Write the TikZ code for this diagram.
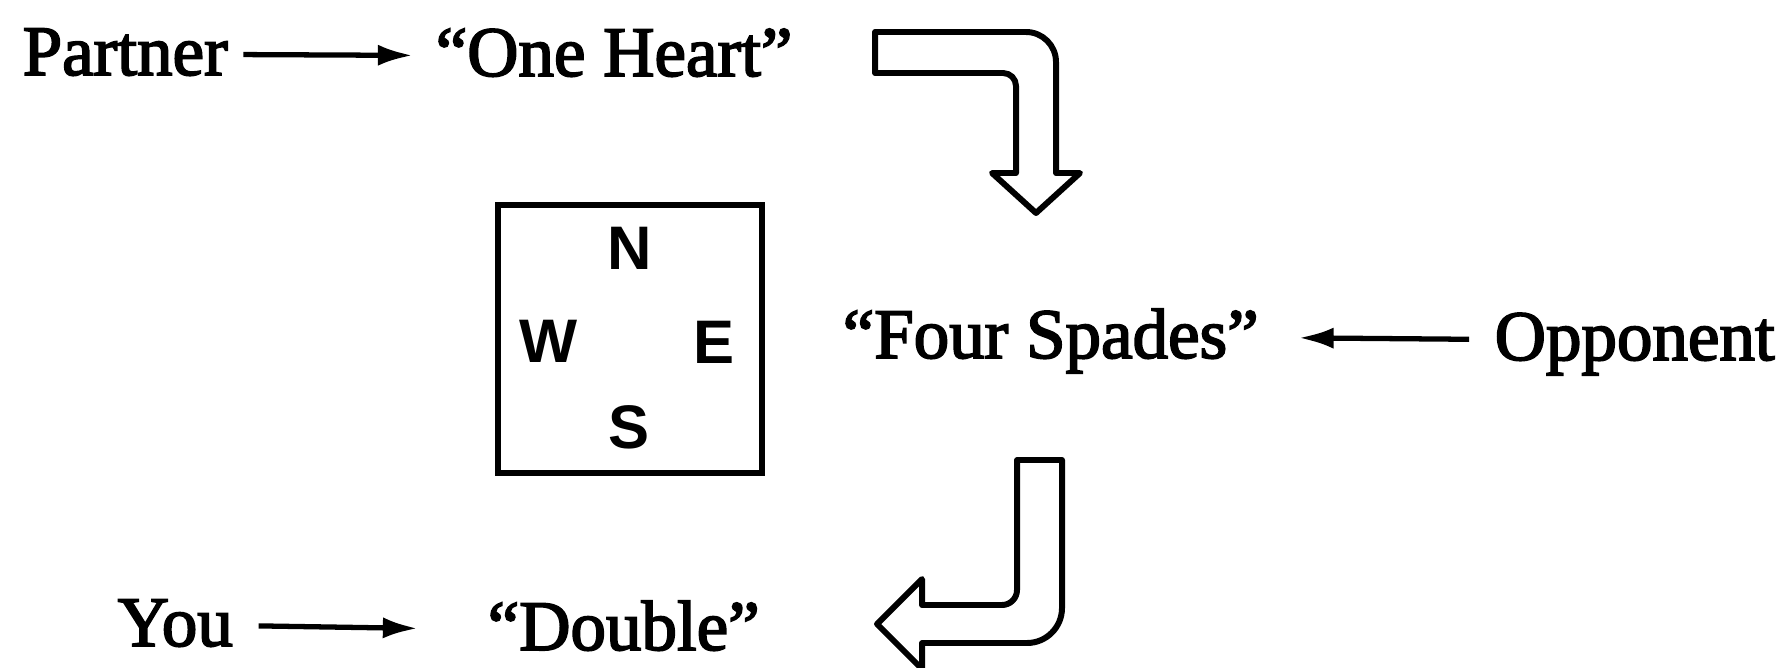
\documentclass[tikz,border=0pt]{standalone}
\usepackage{fontspec}
\setmainfont{Liberation Serif}[FakeBold=2.5]
\newfontfamily\seatfont{Liberation Sans}
\usetikzlibrary{arrows.meta}

\begin{document}
\begin{tikzpicture}[
  >={Latex[length=10pt, width=6pt]}, font=\fontsize{20.2pt}{24pt}\selectfont,
  word/.style={inner sep=0pt, anchor=base west, text height=0.52cm, text depth=0.11cm},
  seat/.style={inner sep=0pt, font=\seatfont\bfseries\fontsize{17.5pt}{21pt}\selectfont},
  call/.style={->, line width=1.5pt},
  block/.style={line width=1.7pt, line join=round}
]
  \useasboundingbox (0,0) rectangle (17.82,-6.67);
  % who says what
  \node[word] (partner) at (0.22,-0.75) {Partner};
  \node[word] (heart) at (4.35,-0.76) {``One Heart''};
  \node[word] (spades) at (8.42,-3.58) {``Four Spades''};
  \node[word] (opp) at (14.94,-3.60) {Opponent};
  \node[word] (you) at (1.17,-6.46) {You};
  \node[word] (double) at (4.87,-6.50) {``Double''};
  \draw[call, shorten <=0.15cm, shorten >=0.22cm] (partner.east) -- (heart.west);
  \draw[call, shorten <=0.25cm, shorten >=0.39cm] (opp.west) -- (spades.east);
  \draw[call, shorten <=0.25cm, shorten >=0.69cm] (you.east) -- (double.west);
  % the table
  \node[draw, line width=1.7pt, minimum width=2.64cm, minimum height=2.68cm] (table) at (6.30,-3.39) {};
  \node[seat] (north) at (6.30,-2.48) {N};
  \node[seat] (west) at (5.49,-3.41) {W};
  \node[seat] (east) at (7.14,-3.42) {E};
  \node[seat] (south) at (6.29,-4.27) {S};
  % turn arrows
  \draw[block] (8.75,-0.32) -- (10.26,-0.32) arc (90:0:0.3) -- (10.56,-1.73) -- (10.80,-1.73)
    -- (10.36,-2.13) -- (9.92,-1.73) -- (10.16,-1.73) -- (10.16,-0.86) arc (0:90:0.13)
    -- (8.75,-0.73) -- cycle;
  \draw[block] (10.17,-4.60) -- (10.17,-5.90) arc (0:-90:0.15) -- (9.22,-6.05) -- (9.22,-5.79)
    -- (8.77,-6.24) -- (9.22,-6.69) -- (9.22,-6.43) -- (10.27,-6.43) arc (-90:0:0.35)
    -- (10.62,-4.60) -- cycle;
\end{tikzpicture}
\end{document}
